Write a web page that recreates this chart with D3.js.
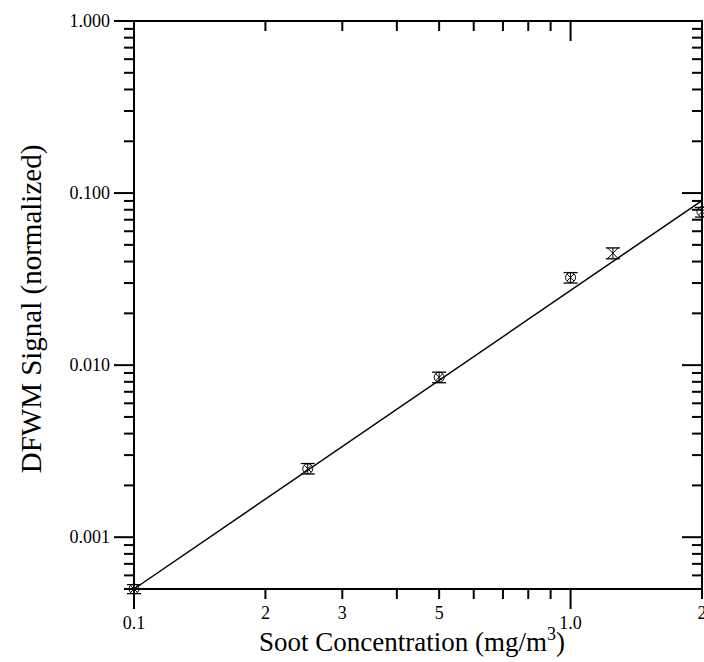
<!DOCTYPE html>
<html>
<head>
<meta charset="utf-8">
<script src="https://cdn.jsdelivr.net/npm/d3@7"></script>
<style>
  html, body { margin: 0; padding: 0; background: #fff; }
  svg { display: block; }
  svg text { font-family: "Liberation Serif", "DejaVu Serif", serif; }
</style>
</head>
<body>
<svg id="chart" width="704" height="662"></svg>
<script>
// ---- data ----
const concentration = [0.1, 0.25, 0.5, 1.0, 1.25, 2.0];
const signal        = [0.0005, 0.0025, 0.0085, 0.0323, 0.0447, 0.078];
const signalLow     = [0.00047, 0.00233, 0.0079, 0.0300, 0.0415, 0.0725];
const signalHigh    = [0.00053, 0.00268, 0.0091, 0.0345, 0.0480, 0.0825];
const markerType    = ["circleX", "circleX", "circleX", "circleX", "cross", "circleX"];
const fitX = [0.1, 2.0];
const fitY = [0.0005, 0.0905];
const xTickValues = [0.1, 0.2, 0.3, 0.5, 1.0, 2.0];
const xTickLabels = ["0.1", "2", "3", "5", "1.0", "2"];
const xMajor = [0.1, 1.0];
const yTickValues = [0.001, 0.01, 0.1, 1];
const yTickLabels = ["0.001", "0.010", "0.100", "1.000"];

(function () {
const FONT = "'Liberation Serif', 'DejaVu Serif', serif";
// ---- layout ----
const pL = 134, pR = 702, pT = 21, pB = 589;
const svg = d3.select("#chart");
const x = d3.scaleLog().domain([0.1, 2]).range([pL, pR]);
const y = d3.scaleLog().domain([0.0005, 1]).range([pB, pT]);

// minor tick values
const xMinor = [];
for (let d = 0.1; d < 2.01; d *= 10) for (let k = 1; k <= 9; k++) { const v = +(d * k).toPrecision(3); if (v >= 0.1 && v <= 2.0001) xMinor.push(v); }
const yMinor = [];
for (let d = 0.0001; d < 1.01; d *= 10) for (let k = 1; k <= 9; k++) { const v = +(d * k).toPrecision(3); if (v >= 0.0005 && v <= 1.0001) yMinor.push(v); }
const isMajor = v => Math.abs(Math.log10(v) - Math.round(Math.log10(v))) < 1e-6;

const g = svg.append("g").attr("font-family", FONT);

// frame
g.append("rect").attr("x", pL).attr("y", pT).attr("width", pR - pL).attr("height", pB - pT)
  .attr("fill", "none").attr("stroke", "#000").attr("stroke-width", 2);

const tickW = 2, majL = 20, minL = 10;
g.selectAll(".ytl").data(yMinor).join("line")
  .attr("x1", d => pL - (isMajor(d) ? majL : minL)).attr("x2", pL)
  .attr("y1", d => y(d)).attr("y2", d => y(d))
  .attr("stroke", "#000").attr("stroke-width", tickW);
g.selectAll(".ytr").data(yMinor).join("line")
  .attr("x1", d => pR - (isMajor(d) ? majL : minL)).attr("x2", pR)
  .attr("y1", d => y(d)).attr("y2", d => y(d))
  .attr("stroke", "#000").attr("stroke-width", tickW);
g.selectAll(".xtb").data(xMinor).join("line")
  .attr("x1", d => x(d)).attr("x2", d => x(d))
  .attr("y1", pB).attr("y2", d => pB + (isMajor(d) ? majL : minL))
  .attr("stroke", "#000").attr("stroke-width", tickW);
g.selectAll(".xtt").data(xMinor).join("line")
  .attr("x1", d => x(d)).attr("x2", d => x(d))
  .attr("y1", pT).attr("y2", d => pT + (isMajor(d) ? majL : minL))
  .attr("stroke", "#000").attr("stroke-width", tickW);

// y labels
g.selectAll(".ylab").data(yTickValues).join("text")
  .attr("font-family", FONT)
  .attr("x", pL - 24).attr("y", d => y(d))
  .attr("text-anchor", "end").attr("dominant-baseline", "central")
  .attr("font-size", 18).text((d, i) => yTickLabels[i]);

// x labels
g.selectAll(".xlab").data(xTickValues).join("text")
  .attr("font-family", FONT)
  .attr("x", d => x(d))
  .attr("y", d => xMajor.includes(d) ? 629 : 619)
  .attr("text-anchor", "middle")
  .attr("font-size", 18).text((d, i) => xTickLabels[i]);

// axis titles
const xt = g.append("text").attr("font-family", FONT).attr("x", 412).attr("y", 651).attr("text-anchor", "middle").attr("font-size", 27);
xt.append("tspan").text("Soot Concentration (mg/m");
xt.append("tspan").attr("font-size", 18).attr("dy", -11).text("3");
xt.append("tspan").attr("dy", 11).text(")");

g.append("text").attr("font-family", FONT).attr("transform", "translate(41,309) rotate(-90)")
  .attr("text-anchor", "middle").attr("font-size", 29).text("DFWM Signal (normalized)");

// fit line
const line = d3.line().x(d => x(d[0])).y(d => y(d[1]));
g.append("path").datum(fitX.map((v, i) => [v, fitY[i]])).attr("d", line)
  .attr("fill", "none").attr("stroke", "#000").attr("stroke-width", 1.5);

// error bars & markers
const pts = concentration.map((c, i) => ({ c, v: signal[i], lo: signalLow[i], hi: signalHigh[i], m: markerType[i] }));
const capW = 7;
const pg = g.selectAll(".pt").data(pts).join("g");
pg.append("line").attr("x1", d => x(d.c)).attr("x2", d => x(d.c)).attr("y1", d => y(d.lo)).attr("y2", d => y(d.hi))
  .attr("stroke", "#000").attr("stroke-width", 1);
pg.append("line").attr("x1", d => x(d.c) - capW).attr("x2", d => x(d.c) + capW).attr("y1", d => y(d.lo)).attr("y2", d => y(d.lo))
  .attr("stroke", "#000").attr("stroke-width", 1.3);
pg.append("line").attr("x1", d => x(d.c) - capW).attr("x2", d => x(d.c) + capW).attr("y1", d => y(d.hi)).attr("y2", d => y(d.hi))
  .attr("stroke", "#000").attr("stroke-width", 1.3);
pg.filter(d => d.m === "circleX").append("circle").attr("cx", d => x(d.c)).attr("cy", d => y(d.v)).attr("r", 5)
  .attr("fill", "none").attr("stroke", "#000").attr("stroke-width", 1);
pg.append("path").attr("d", d => {
  const cx = x(d.c), cy = y(d.v), r = d.m === "cross" ? 5.5 : 3.5;
  return `M${cx - r},${cy - r}L${cx + r},${cy + r}M${cx - r},${cy + r}L${cx + r},${cy - r}`;
}).attr("stroke", "#000").attr("stroke-width", 1).attr("fill", "none");
})();
</script>
</body>
</html>
